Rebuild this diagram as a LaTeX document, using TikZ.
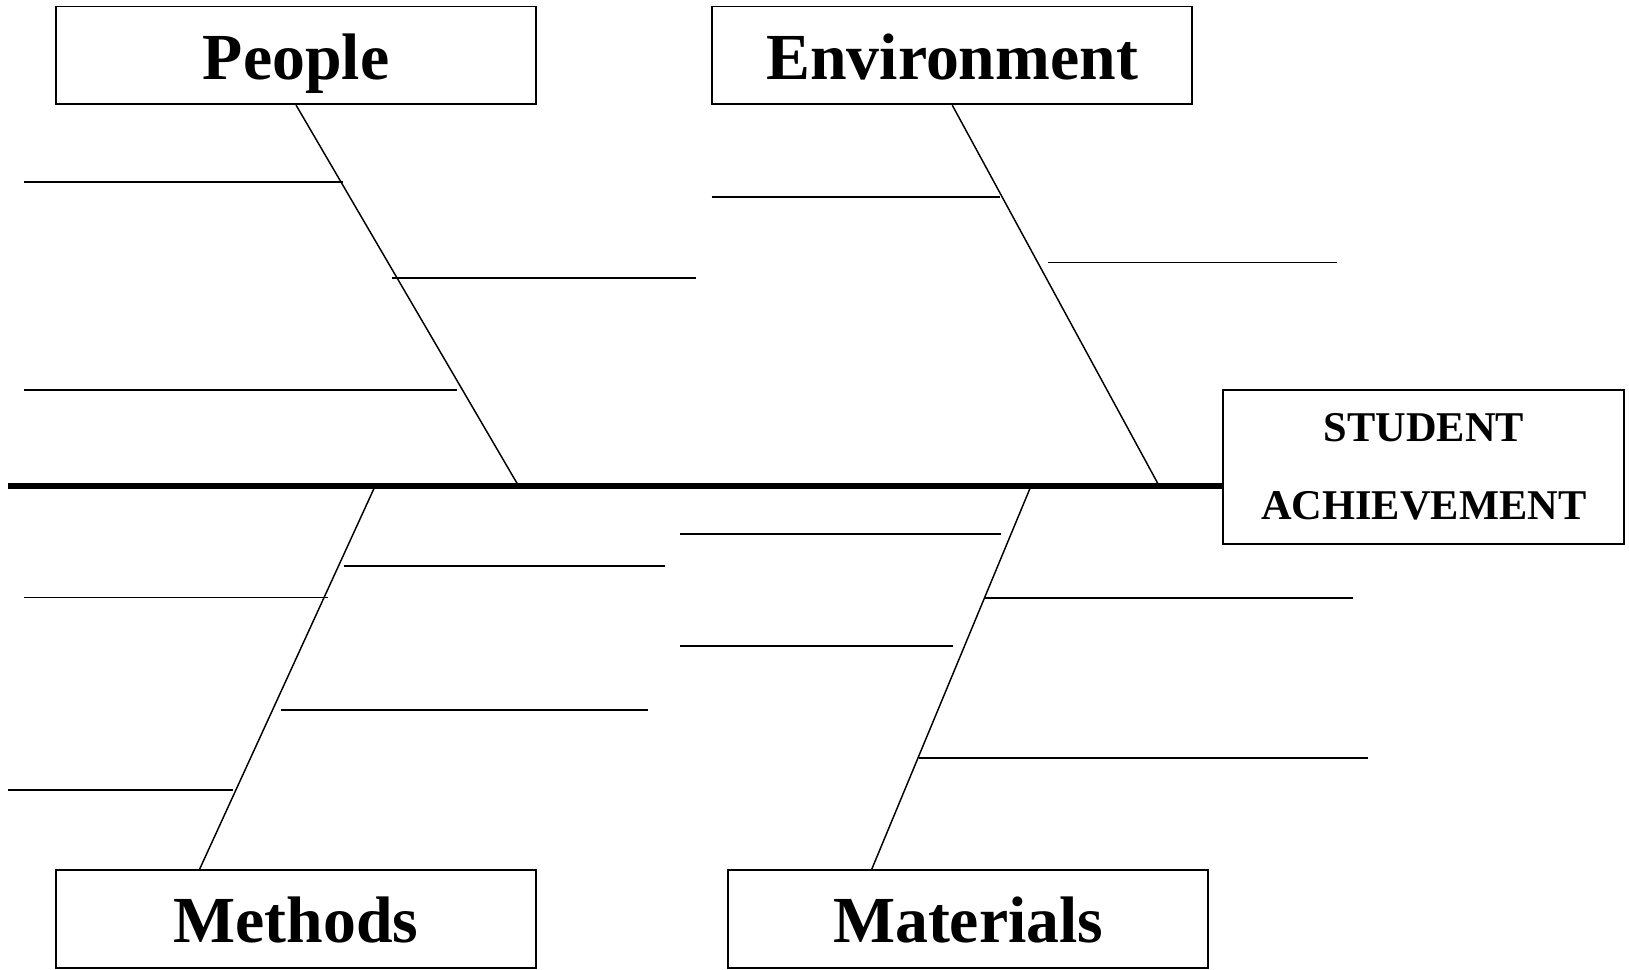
\documentclass[tikz,border=0pt]{standalone}
\usepackage{fontspec}
\setmainfont{Liberation Serif}
\usepackage{tikz}

\tikzset{
  every category/.style={draw, line width=0.5pt, minimum width=4.62cm, minimum height=0.94cm,
    inner sep=0pt, text height=13pt, text depth=0pt, font=\bfseries\fontsize{18}{20}\selectfont},
  effect/.style={draw, line width=0.5pt, minimum width=3.856cm, minimum height=1.478cm,
    inner sep=0pt, align=center, font=\bfseries\fontsize{11.6}{21.2}\selectfont},
  spine/.style={line width=1.6pt},
  bone/.style={line width=0.4pt},
  rib/.style={line width=0.5pt}
}

\begin{document}
\begin{tikzpicture}[x=0.01cm, y=-0.01cm]
\useasboundingbox (0,0) rectangle (1568,933);

\foreach \m/\x/\y in {People/285/53.3, Environment/916.6/53.3, Methods/285/884.7, Materials/932/884.7}
  \node [every category/.try] (\m) at (\x,\y) {\m};

\node [effect] (effect) at (1370.5,449.3) {STUDENT\\ACHIEVEMENT};

\coordinate (tail) at (7.5,468);
\draw [spine] (tail) -- (effect.west |- tail);
%\draw [spine] (tail) -- (effect.west);

\foreach \x [count=\j] in {499.3, 1115.9, 361, 992.3}
  \coordinate (j-\j) at (\x,468);

\foreach \m/\j in {People/1, Environment/2}
  \draw [bone] (\m.south) -- (j-\j);
\foreach \m/\j in {Methods/3, Materials/4}
  \draw [bone] ([xshift=1.39cm]\m.north west) -- (j-\j);

% people, environment
\foreach \a/\b/\y in {23/330/175.5, 377/670/267.3, 23/440/375.4, 685/963/190, 1009/1287/252.6}
  \draw [rib] (\a,\y) -- (\b,\y);

% methods, materials
\foreach \a/\b/\y in {331/640/545, 23/316/575.2, 270/624/683.4, 7.5/224/760.7,
                      655/963.5/514, 948/1302/575.9, 655/917/621.8, 885/1317/729.9}
  \draw [rib] (\a,\y) -- (\b,\y);
\end{tikzpicture}
\end{document}
